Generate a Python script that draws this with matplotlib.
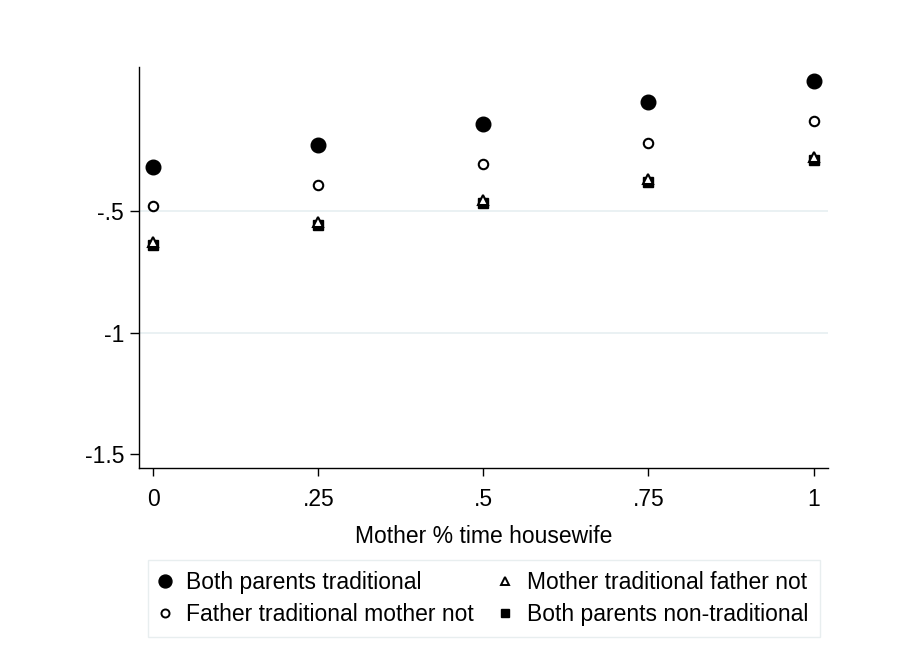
import matplotlib
matplotlib.use("Agg")
import matplotlib.pyplot as plt
from matplotlib.lines import Line2D

plt.rcParams['font.family'] = ['Liberation Sans', 'DejaVu Sans']

# share of time mother was a housewife
x_vals = [0, 0.25, 0.5, 0.75, 1]

both_trad = [-0.318, -0.226, -0.143, -0.053, 0.034]
father_trad = [-0.478, -0.393, -0.304, -0.218, -0.130]
mother_trad = [-0.626, -0.544, -0.455, -0.366, -0.277]
both_nontrad = [-0.640, -0.556, -0.467, -0.378, -0.290]

x_ticks = [0, 0.25, 0.5, 0.75, 1]
x_labels = ['0', '.25', '.5', '.75', '1']
y_ticks = [-1.5, -1, -0.5]
y_labels = ['-1.5', '-1', '-.5']
names = ['Both parents traditional', 'Father traditional mother not',
         'Mother traditional father not', 'Both parents non-traditional']

fs = 16.5

fig = plt.figure(figsize=(9.06, 6.63), dpi=100)
ax = fig.add_axes([0.1531, 0.2937, 0.914 - 0.1531, 0.8994 - 0.2937])

for g in [-1, -0.5]:
    ax.axhline(g, color='#e6eff1', lw=1.2, zorder=0)

ax.plot(x_vals, both_trad, 'o', color='black', ms=10.5, ls='none')
ax.plot(x_vals, father_trad, 'o', mfc='white', mec='black', mew=1.5, ms=6.8, ls='none')
ax.plot(x_vals, both_nontrad, 's', color='black', ms=6.5, ls='none')
ax.plot(x_vals, mother_trad, '^', mfc='white', mec='black', mew=1.5, ms=7.5, ls='none')

ax.set_xlim(-0.022, 1.022)
ax.set_ylim(-1.557, 0.094)
ax.set_xticks(x_ticks)
ax.set_xticklabels(x_labels)
ax.set_yticks(y_ticks)
ax.set_yticklabels(y_labels)
ax.tick_params(axis='y', direction='out', length=6.5, width=1, labelsize=fs, pad=4)
ax.tick_params(axis='x', direction='out', length=6, width=1, labelsize=fs, pad=8)
for s in ['top', 'right']:
    ax.spines[s].set_visible(False)
for s in ['left', 'bottom']:
    ax.spines[s].set_linewidth(1)
ax.set_xlabel('Mother % time housewife', fontsize=fs, labelpad=10)

# legend markers are a bit smaller than the plotted ones
handles = [
    Line2D([], [], marker='o', color='black', ms=9.3, ls='none'),
    Line2D([], [], marker='o', mfc='white', mec='black', mew=1.4, ms=5.8, ls='none'),
    Line2D([], [], marker='^', mfc='white', mec='black', mew=1.4, ms=6.2, ls='none'),
    Line2D([], [], marker='s', color='black', ms=5.2, ls='none'),
]
leg = fig.legend(handles, names, loc='center', bbox_to_anchor=(0.5337, 0.0973), ncol=2,
                 fontsize=fs, frameon=True, fancybox=False, edgecolor='#e3eaec',
                 columnspacing=1.13, handletextpad=0.68, handlelength=0.5,
                 labelspacing=0.36, borderpad=0.5)
leg.get_frame().set_linewidth(1)

fig.savefig('out.png', dpi=100)
